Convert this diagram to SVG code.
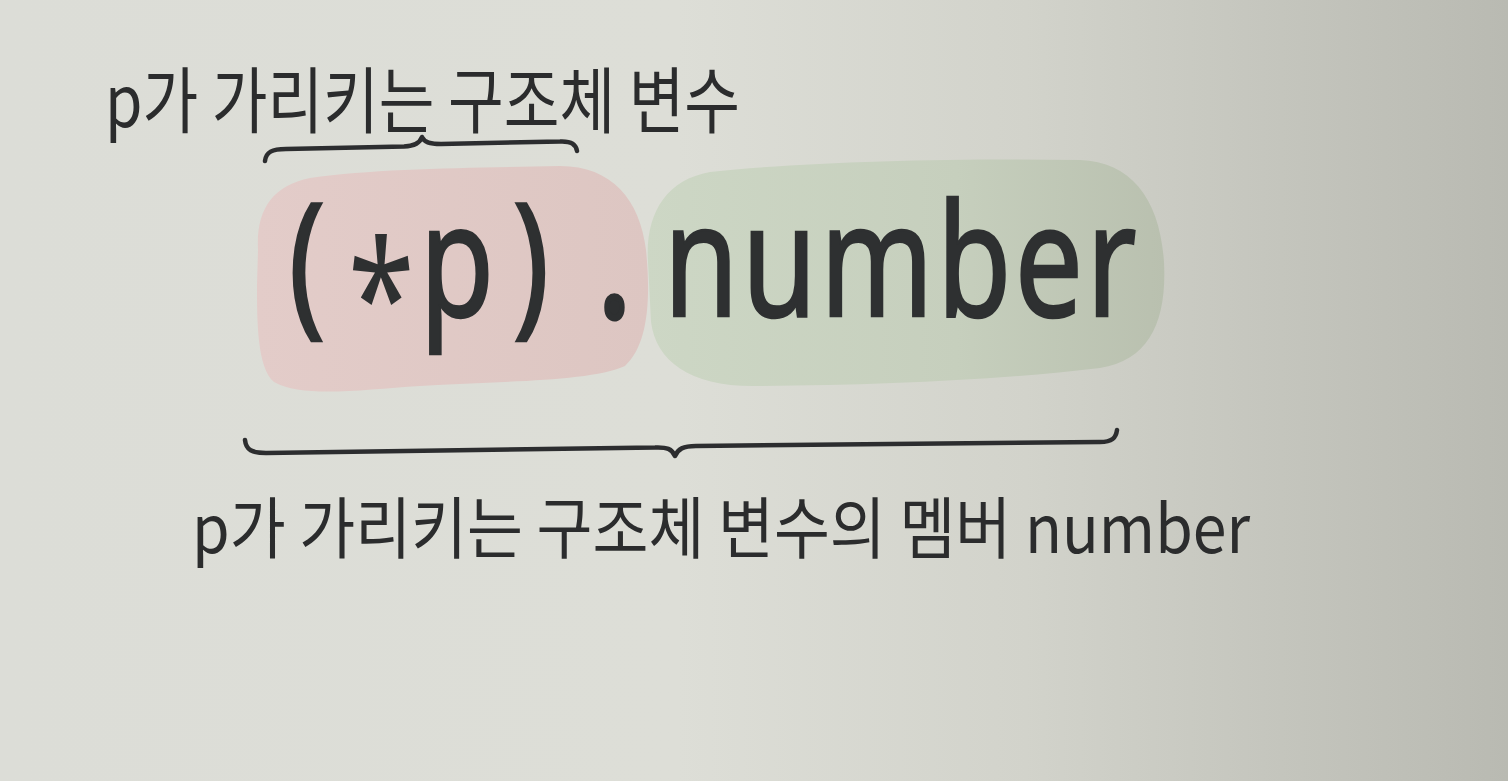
<svg xmlns="http://www.w3.org/2000/svg" width="1508" height="781" viewBox="0 0 1508 781">
  <defs>
    <linearGradient id="page" x1="0" y1="0" x2="1508" y2="0" gradientUnits="userSpaceOnUse">
      <stop offset="0" stop-color="#dcddd7"/>
      <stop offset="0.45" stop-color="#dddeD7"/>
      <stop offset="0.68" stop-color="#d2d3cb"/>
      <stop offset="0.85" stop-color="#c4c5bd"/>
      <stop offset="1" stop-color="#b9bab2"/>
    </linearGradient>
    <linearGradient id="pinkFill" x1="255" y1="0" x2="650" y2="0" gradientUnits="userSpaceOnUse">
      <stop offset="0" stop-color="#e3ccc9"/>
      <stop offset="1" stop-color="#ddc6c2"/>
    </linearGradient>
    <linearGradient id="greenFill" x1="645" y1="0" x2="1165" y2="0" gradientUnits="userSpaceOnUse">
      <stop offset="0" stop-color="#cdd7c5"/>
      <stop offset="0.6" stop-color="#c6cfbd"/>
      <stop offset="1" stop-color="#b9c0af"/>
    </linearGradient>
  </defs>
  <style>
    .lbl { font-family: "Noto Sans CJK KR", "Noto Sans", sans-serif; fill: #2b2c2d; }
    .code { font-family: "Noto Sans", "Open Sans", sans-serif; font-size: 157px; fill: #2e3031; stroke: #2e3031; stroke-width: 2.5px; }
    .brace { fill: none; stroke: #2c2d2f; stroke-width: 4.5; stroke-linecap: round; stroke-linejoin: round; }
  </style>

  <rect x="0" y="0" width="1508" height="781" fill="url(#page)"/>

  <g id="label-top">
    <text class="lbl" x="105" y="127" font-size="72" textLength="635" lengthAdjust="spacingAndGlyphs">p가 가리키는 구조체 변수</text>
  </g>

  <g id="expr-pointer">
    <path fill="url(#pinkFill)" d="M 258 250 C 256 210, 272 186, 310 178 C 380 168, 470 168, 560 166 C 612 166, 640 200, 646 250 C 651 300, 648 345, 625 366 C 590 382, 500 381, 420 386 C 360 390, 302 398, 274 382 C 257 368, 257 320, 257 285 Z"/>
    <g transform="translate(0,316) scale(0.77,1)">
      <text class="code"><tspan x="375">(</tspan><tspan x="452" dy="38" stroke-width="0">*</tspan><tspan x="545" dy="-38">p</tspan><tspan x="666">)</tspan><tspan x="777" stroke-width="7">.</tspan></text>
    </g>
  </g>

  <g id="expr-member">
    <path fill="url(#greenFill)" d="M 648 262 C 645 215, 665 180, 710 172 C 800 162, 950 158, 1080 160 C 1132 162, 1160 200, 1164 262 C 1167 320, 1150 360, 1100 368 C 1000 380, 880 385, 760 386 C 692 388, 656 362, 651 322 Z"/>
    <g transform="translate(0,316) scale(0.77,1)">
      <text class="code" x="862" textLength="614" lengthAdjust="spacing">number</text>
    </g>
  </g>

  <g id="connectors">
    <path id="brace-top" class="brace" d="M 265 161 C 266 152, 272 149, 286 149 L 404 146.5 C 415 146, 420 143, 422 137 C 424 142, 429 144, 441 144 L 560 141.5 C 571 141, 576 144, 577 151"/>
    <path id="brace-bottom" class="brace" d="M 245 440 C 246 450, 252 453, 266 453 L 655 447.5 C 667 447, 672 449, 675 456 C 678 449, 683 446, 696 446 L 1100 442 C 1112 442, 1116 438, 1117 430"/>
  </g>

  <g id="label-bottom">
    <text class="lbl" x="192" y="553" font-size="67" textLength="1058" lengthAdjust="spacingAndGlyphs">p가 가리키는 구조체 변수의 멤버 number</text>
  </g>
</svg>
